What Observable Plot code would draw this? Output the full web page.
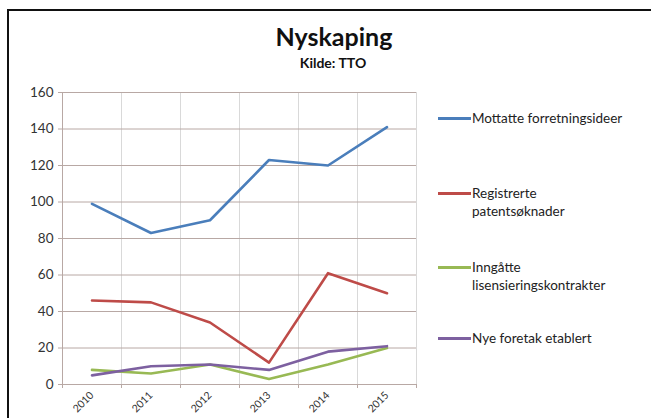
<!DOCTYPE html>
<html>
<head>
<meta charset="utf-8">
<script src="https://cdn.jsdelivr.net/npm/d3@7"></script>
<script src="https://cdn.jsdelivr.net/npm/@observablehq/plot@0.6"></script>
<style>
  html, body { margin: 0; padding: 0; background: #fff; }
  body { width: 651px; height: 418px; overflow: hidden; position: relative; font-family: Lato, "Open Sans", sans-serif; }
  #frame { position: absolute; left: 7px; top: 9px; width: 700px; height: 500px; border-left: 2px solid #111; border-top: 2px solid #111; }
  #title { position: absolute; left: 0; width: 668px; top: 21px; text-align: center; font-weight: bold; font-size: 25px; color: #111; }
  #subtitle { position: absolute; left: 0; width: 666px; top: 54px; text-align: center; font-weight: bold; font-size: 14px; color: #111; }
  #chart { position: absolute; left: 0; top: 0; }
  #legend { position: absolute; left: 0; top: 0; }
  .item { position: absolute; left: 438px; font-size: 13.5px; color: #222; line-height: 18px; }
  .item .sw { position: absolute; left: 0; width: 33px; height: 3px; top: 8px; }
  .item .tx { position: absolute; left: 34px; white-space: nowrap; }
</style>
</head>
<body>
<div id="frame"></div>
<div id="title">Nyskaping</div>
<div id="subtitle">Kilde: TTO</div>
<div id="chart"></div>
<div id="legend"></div>
<script>
const years = [2010, 2011, 2012, 2013, 2014, 2015];
const seriesNames = ["Mottatte forretningsideer", "Registrerte patentsøknader", "Inngåtte lisensieringskontrakter", "Nye foretak etablert"];
const legendLines = [["Mottatte forretningsideer"], ["Registrerte", "patentsøknader"], ["Inngåtte", "lisensieringskontrakter"], ["Nye foretak etablert"]];
const mottatte = [99, 83, 90, 123, 120, 141];
const registrerte = [46, 45, 34, 12, 61, 50];
const inngatte = [8, 6, 11, 3, 11, 20];
const nyeForetak = [5, 10, 11, 8, 18, 21];
const colors = ["#4a7ebb", "#be4b48", "#98b954", "#7d60a0"];
const yTicks = [0, 20, 40, 60, 80, 100, 120, 140, 160];

const seriesValues = [mottatte, registrerte, inngatte, nyeForetak];
const data = seriesNames.flatMap((name, i) => years.map((year, j) => ({name, year, value: seriesValues[i][j]})));
const boundaries = [years[0] - 0.5, ...years.map(y => y + 0.5)];

const plot = Plot.plot({
  width: 651,
  height: 418,
  marginLeft: 62,
  marginRight: 235,
  marginTop: 92,
  marginBottom: 34,
  style: {fontFamily: "Lato, 'Open Sans', sans-serif", background: "transparent", color: "#333"},
  x: {type: "linear", domain: [boundaries[0], boundaries[boundaries.length - 1]], label: null},
  y: {domain: [0, 160], label: null},
  color: {domain: seriesNames, range: colors},
  marks: [
    Plot.ruleX(boundaries.slice(1), {stroke: "#d9d9d9", strokeWidth: 1}),
    Plot.ruleY(yTicks.slice(1), {stroke: "#b8a8a4", strokeWidth: 1}),
    Plot.ruleX([boundaries[0]], {stroke: "#b8a8a4", strokeWidth: 1}),
    Plot.ruleY([0], {stroke: "#b8a8a4", strokeWidth: 1}),
    Plot.axisY({ticks: yTicks, tickSize: 4, tickPadding: 5, stroke: "#b8a8a4", fontSize: 13.5, fill: "#333", label: null}),
    Plot.axisX({ticks: boundaries, tickSize: 4, tickFormat: () => "", stroke: "#b8a8a4", label: null}),
    Plot.axisX({ticks: years, tickSize: 0, tickPadding: 9, tickRotate: -45, tickFormat: d => String(d), fontSize: 10.5, fill: "#333", label: null}),
    Plot.line(data, {x: "year", y: "value", z: "name", stroke: "name", strokeWidth: 2.6, strokeLinejoin: "round"})
  ]
});
document.getElementById("chart").appendChild(plot);

const legendTops = [109, 184, 258, 329];
const legend = document.getElementById("legend");
legendLines.forEach((lines, i) => {
  const item = document.createElement("div");
  item.className = "item";
  item.style.top = legendTops[i] + "px";
  item.innerHTML = `<div class="sw" style="background:${colors[i]}"></div><div class="tx">${lines.join("<br>")}</div>`;
  legend.appendChild(item);
});
</script>
</body>
</html>
